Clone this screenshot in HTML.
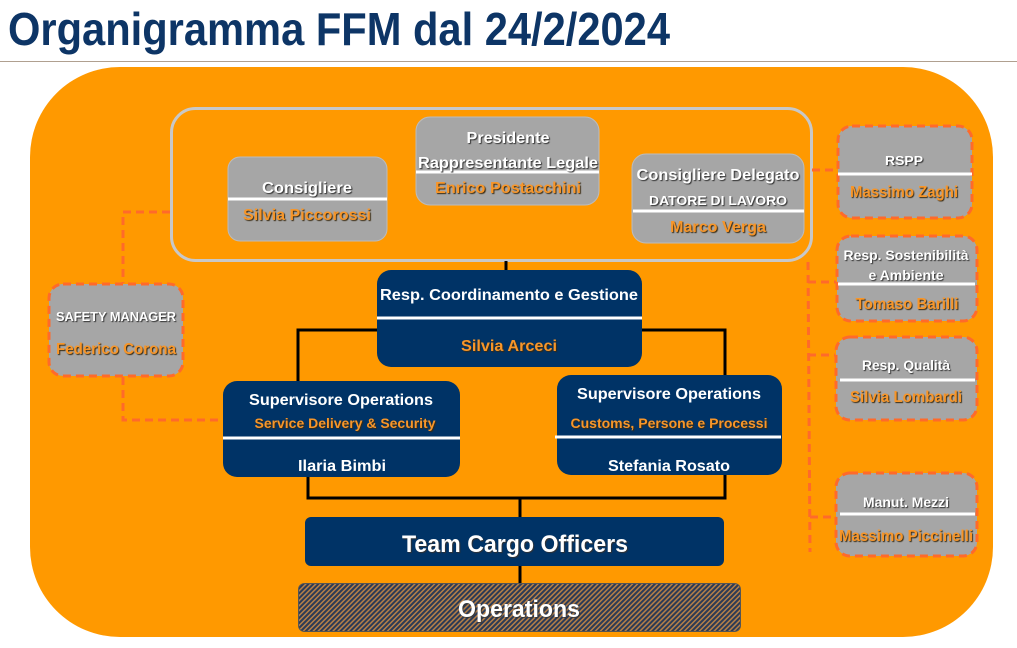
<!DOCTYPE html>
<html><head><meta charset="utf-8"><style>
html,body{margin:0;padding:0;background:#fff;}
svg{display:block}
text{font-family:"Liberation Sans",Arial,sans-serif;font-weight:bold;}
.w{fill:#fff;text-shadow:1px 1px 1px #333;}
.o{fill:#f7962a;text-shadow:1px 1px 1px #3a2a10;}
.ww{fill:#fff;}
</style></head><body>
<svg width="1017" height="648" viewBox="0 0 1017 648" xmlns="http://www.w3.org/2000/svg">
<defs>
<pattern id="hatch" width="3.5" height="3.5" patternUnits="userSpaceOnUse" patternTransform="rotate(45)">
<rect width="3.5" height="3.5" fill="#b58048"/>
<rect width="2" height="3.5" fill="#2c3a55"/>
</pattern>
</defs>
<text x="8" y="45" font-size="46" fill="#0d3566" textLength="662" lengthAdjust="spacingAndGlyphs">Organigramma FFM dal 24/2/2024</text>
<line x1="0" y1="61.5" x2="1017" y2="61.5" stroke="#b0a090" stroke-width="1"/>
<rect x="30" y="67" width="963" height="570" rx="90" fill="#ff9900"/>

<rect x="171.5" y="108.5" width="640" height="152" rx="24" fill="none" stroke="#c8c8c8" stroke-width="3"/>

<g stroke="#ff6a2a" stroke-width="3" stroke-dasharray="8,5" fill="none">
<polyline points="170,212 123,212 123,283"/>
<polyline points="123,377 123,420 223,420"/>
<line x1="812" y1="170" x2="837" y2="170"/>
<polyline points="808,262 810,552"/>
<line x1="808" y1="282" x2="836" y2="282"/>
<line x1="808" y1="355" x2="835" y2="355"/>
<line x1="810" y1="517" x2="835" y2="517"/>
</g>

<g stroke="#000" stroke-width="3" fill="none">
<line x1="506" y1="261" x2="506" y2="271"/>
<polyline points="377,330 298,330 298,381"/>
<polyline points="642,330 725,330 725,375"/>
<polyline points="308,477 308,498 725,498 725,475"/>
<line x1="520" y1="498" x2="520" y2="517"/>
<line x1="520" y1="566" x2="520" y2="583"/>
</g>

<g fill="#a6a6a6" stroke="#bcbcbc" stroke-width="1">
<rect x="228" y="157" width="159" height="84" rx="12"/>
<rect x="416" y="117" width="183" height="88" rx="14"/>
<rect x="632" y="154" width="172" height="89" rx="14"/>
</g>
<g stroke="#fff" stroke-width="3">
<line x1="228" y1="199" x2="387" y2="199"/>
<line x1="416" y1="172" x2="599" y2="172"/>
<line x1="633" y1="211" x2="804" y2="211"/>
</g>
<text class="w" x="307" y="193" font-size="16" text-anchor="middle" textLength="90" lengthAdjust="spacingAndGlyphs">Consigliere</text>
<text class="o" x="307" y="220" font-size="16" text-anchor="middle" textLength="128" lengthAdjust="spacingAndGlyphs">Silvia Piccorossi</text>
<text class="w" x="508" y="143" font-size="16" text-anchor="middle" textLength="83" lengthAdjust="spacingAndGlyphs">Presidente</text>
<text class="w" x="508" y="168" font-size="16" text-anchor="middle" textLength="180" lengthAdjust="spacingAndGlyphs">Rappresentante Legale</text>
<text class="o" x="508" y="193" font-size="16" text-anchor="middle" textLength="146" lengthAdjust="spacingAndGlyphs">Enrico Postacchini</text>
<text class="w" x="718" y="180" font-size="16" text-anchor="middle" textLength="163" lengthAdjust="spacingAndGlyphs">Consigliere Delegato</text>
<text class="w" x="718" y="205" font-size="13" text-anchor="middle" textLength="138" lengthAdjust="spacingAndGlyphs">DATORE DI LAVORO</text>
<text class="o" x="718" y="232" font-size="16" text-anchor="middle" textLength="96" lengthAdjust="spacingAndGlyphs">Marco Verga</text>

<g fill="#003366">
<rect x="377" y="270" width="265" height="97" rx="14"/>
<rect x="223" y="381" width="237" height="96" rx="14"/>
<rect x="557" y="375" width="225" height="100" rx="14"/>
<rect x="305" y="517" width="419" height="49" rx="6"/>
</g>
<g stroke="#fff" stroke-width="3">
<line x1="377" y1="318" x2="642" y2="318"/>
<line x1="223" y1="438" x2="460" y2="438"/>
<line x1="555" y1="437" x2="781" y2="437"/>
</g>
<text class="ww" x="509" y="300" font-size="16" text-anchor="middle" textLength="258" lengthAdjust="spacingAndGlyphs">Resp. Coordinamento e Gestione</text>
<text class="o" x="509" y="351" font-size="16" text-anchor="middle" textLength="96" lengthAdjust="spacingAndGlyphs">Silvia Arceci</text>
<text class="ww" x="341" y="405" font-size="16" text-anchor="middle" textLength="184" lengthAdjust="spacingAndGlyphs">Supervisore Operations</text>
<text class="o" x="345" y="428" font-size="14" text-anchor="middle" textLength="181" lengthAdjust="spacingAndGlyphs">Service Delivery &amp; Security</text>
<text class="ww" x="342" y="471" font-size="16" text-anchor="middle" textLength="88" lengthAdjust="spacingAndGlyphs">Ilaria Bimbi</text>
<text class="ww" x="669" y="399" font-size="16" text-anchor="middle" textLength="184" lengthAdjust="spacingAndGlyphs">Supervisore Operations</text>
<text class="o" x="669" y="428" font-size="14" text-anchor="middle" textLength="197" lengthAdjust="spacingAndGlyphs">Customs, Persone e Processi</text>
<text class="ww" x="669" y="471" font-size="16" text-anchor="middle" textLength="122" lengthAdjust="spacingAndGlyphs">Stefania Rosato</text>
<text class="w" x="515" y="552" font-size="24" text-anchor="middle" textLength="226" lengthAdjust="spacingAndGlyphs">Team Cargo Officers</text>

<rect x="298.5" y="583.5" width="442" height="48" rx="6" fill="url(#hatch)" stroke="#555" stroke-width="1"/>
<text class="w" x="519" y="617" font-size="24" text-anchor="middle" textLength="122" lengthAdjust="spacingAndGlyphs">Operations</text>

<g fill="#a6a6a6" stroke="#ff6a2a" stroke-width="3" stroke-dasharray="8,5">
<rect x="49" y="284" width="134" height="92" rx="14"/>
<rect x="838" y="126" width="134" height="92" rx="14"/>
<rect x="837" y="236" width="140" height="85" rx="14"/>
<rect x="836" y="337" width="141" height="83" rx="14"/>
<rect x="836" y="473" width="141" height="83" rx="14"/>
</g>
<g stroke="#fff" stroke-width="3">
<line x1="838" y1="174" x2="972" y2="174"/>
<line x1="838" y1="284" x2="975" y2="284"/>
<line x1="840" y1="380" x2="975" y2="380"/>
<line x1="840" y1="514" x2="975" y2="514"/>
</g>
<text class="w" x="116" y="321" font-size="13" text-anchor="middle" textLength="120" lengthAdjust="spacingAndGlyphs">SAFETY MANAGER</text>
<text class="o" x="116" y="354" font-size="16" text-anchor="middle" textLength="120" lengthAdjust="spacingAndGlyphs">Federico Corona</text>
<text class="w" x="904" y="165" font-size="13" text-anchor="middle" textLength="38" lengthAdjust="spacingAndGlyphs">RSPP</text>
<text class="o" x="904" y="197" font-size="16" text-anchor="middle" textLength="108" lengthAdjust="spacingAndGlyphs">Massimo Zaghi</text>
<text class="w" x="906" y="260" font-size="14" text-anchor="middle" textLength="125" lengthAdjust="spacingAndGlyphs">Resp. Sostenibilità</text>
<text class="w" x="906" y="280" font-size="14" text-anchor="middle" textLength="75" lengthAdjust="spacingAndGlyphs">e Ambiente</text>
<text class="o" x="907" y="309" font-size="16" text-anchor="middle" textLength="103" lengthAdjust="spacingAndGlyphs">Tomaso Barilli</text>
<text class="w" x="906" y="370" font-size="14" text-anchor="middle" textLength="88" lengthAdjust="spacingAndGlyphs">Resp. Qualità</text>
<text class="o" x="906" y="402" font-size="16" text-anchor="middle" textLength="112" lengthAdjust="spacingAndGlyphs">Silvia Lombardi</text>
<text class="w" x="906" y="507" font-size="14" text-anchor="middle" textLength="86" lengthAdjust="spacingAndGlyphs">Manut. Mezzi</text>
<text class="o" x="906" y="541" font-size="16" text-anchor="middle" textLength="134" lengthAdjust="spacingAndGlyphs">Massimo Piccinelli</text>
</svg>
</body></html>
